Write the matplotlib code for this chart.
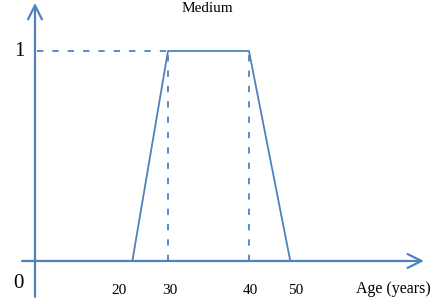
import matplotlib.pyplot as plt

# membership function "Medium" (drawn positions on the age scale, schematic)
trapX = [25.6, 30, 40, 45.1]
trapY = [0, 1, 1, 0]
tickPos = [24.0, 30.2, 40.2, 45.8]
tickLabels = ['20', '30', '40', '50']
blue = '#4f81bd'

fig = plt.figure(figsize=(4.33, 3.04), dpi=100)
ax = fig.add_axes([0, 0, 1, 1])
ax.set_xlim(9.26, 62.72)
ax.set_ylim(-0.205, 1.243)
ax.axis('off')

plt.rcParams['font.family'] = ['Liberation Serif', 'DejaVu Serif']

# axes with open arrow heads
arrow = dict(arrowstyle='->', color=blue, lw=1.6, mutation_scale=25, shrinkA=0, shrinkB=0)
ax.annotate('', xy=(61.6, 0), xytext=(11.98, 0), arrowprops=arrow)
ax.annotate('', xy=(13.58, 1.229), xytext=(13.58, -0.171), arrowprops=arrow)

# trapezoid
ax.plot(trapX, trapY, color=blue, lw=1.3)

# guide lines
dash = dict(color=blue, lw=1.3, linestyle=(0, (3.5, 5)))
ax.plot([13.8, trapX[1]], [1, 1], **dash)
ax.plot([trapX[1], trapX[1]], [0, 1], **dash)
ax.plot([trapX[2], trapX[2]], [0, 1], **dash)

for p, t in zip(tickPos, tickLabels):
    ax.text(p, -0.14, t, ha='center', va='center', fontsize=11, family='Liberation Serif')
ax.text(11.6, 1.0, '1', ha='center', va='center', fontsize=15, family='Liberation Serif')
ax.text(11.5, -0.105, '0', ha='center', va='center', fontsize=15, family='Liberation Serif')
ax.text(57.8, -0.135, 'Age (years)', ha='center', va='center', fontsize=11.5, family='Liberation Serif')
ax.text(34.9, 1.203, 'Medium', ha='center', va='center', fontsize=11, family='Liberation Serif')

fig.savefig('out.png', dpi=100)
